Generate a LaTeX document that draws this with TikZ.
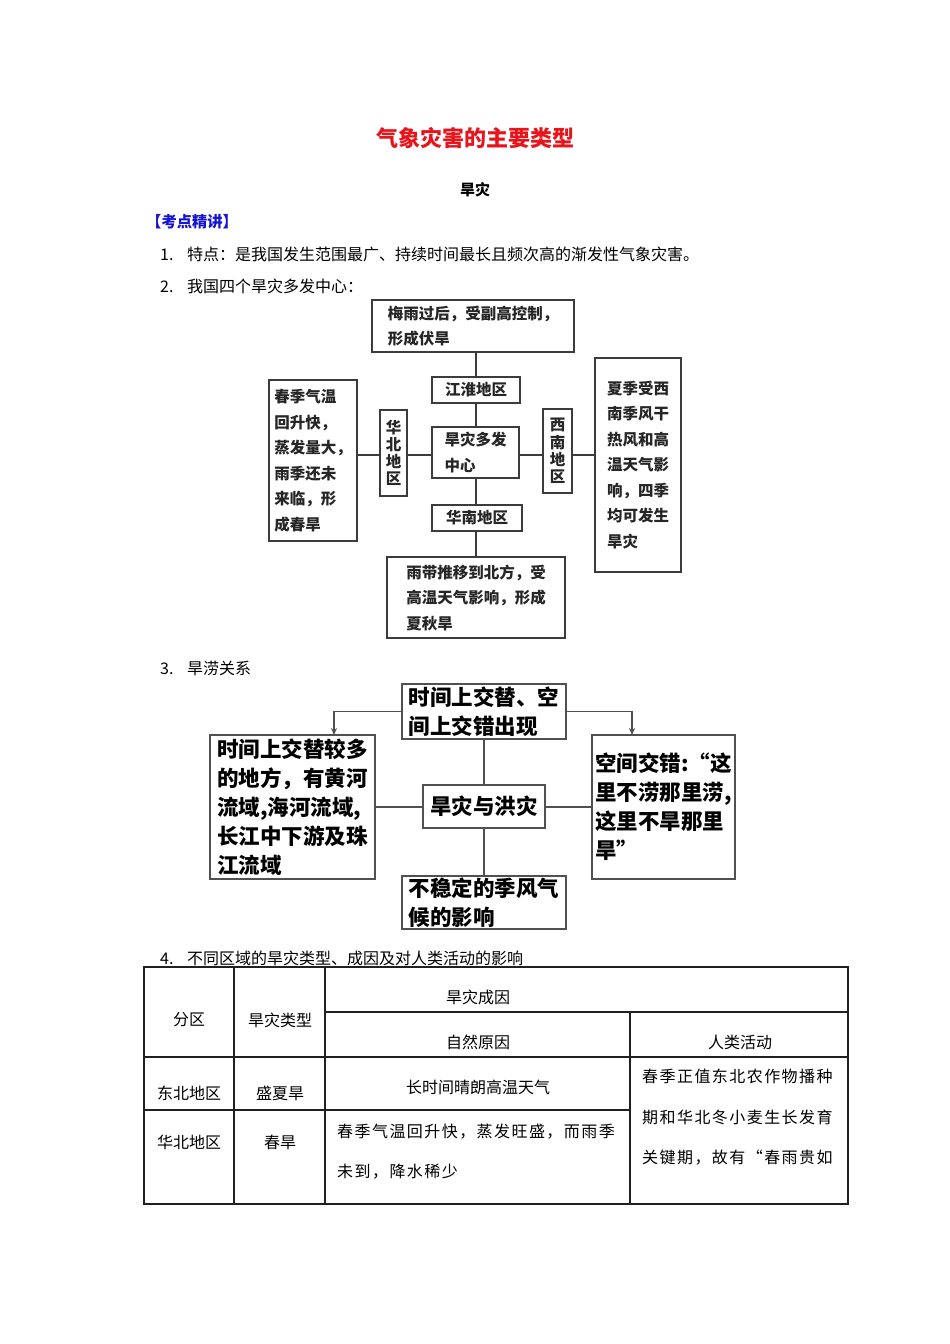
\documentclass[tikz,border=0pt]{standalone}
\usepackage{fontspec}
\setmainfont{Noto Sans CJK SC}
\newfontfamily\spacedfont{Noto Sans CJK SC}[LetterSpace=9]
\usetikzlibrary{arrows.meta}
\definecolor{titlered}{HTML}{E8141B}
\definecolor{keyblue}{HTML}{1414D2}
\definecolor{lineA}{HTML}{3C3C3C}
\definecolor{txtA}{HTML}{262626}
\definecolor{lineB}{HTML}{505050}
\definecolor{tblline}{HTML}{202020}
\begin{document}
\begin{tikzpicture}[x=1pt,y=-1pt,
  body/.style={font=\fontsize{16}{16}\selectfont, inner sep=0, anchor=west},
  boxA/.style={draw=lineA, line width=1.3pt, text=txtA, font=\bfseries\fontsize{15.5}{25.5}\selectfont, align=left, inner sep=0},
  boxV/.style={draw=lineA, line width=1.3pt, text=txtA, font=\bfseries\fontsize{15.5}{17.2}\selectfont, align=center, inner sep=0},
  connA/.style={draw=lineA, line width=1.3pt},
  boxB/.style={draw=lineB, line width=1.8pt, text=black, font=\bfseries\fontsize{21.5}{29}\selectfont, align=left, inner sep=0},
  connB/.style={draw=lineB, line width=1.5pt},
  arrB/.style={draw=lineB, line width=1.2pt, -{Stealth[length=7pt,width=6pt]}},
  tcell/.style={font=\fontsize{16}{16}\selectfont, inner sep=0},
  tleft/.style={font=\spacedfont\fontsize{16}{16}\selectfont, inner sep=0, anchor=west},
  tline/.style={draw=tblline, line width=1.2pt},
  touter/.style={draw=tblline, line width=1.8pt}
]
\useasboundingbox[fill=white] (0,0) rectangle (950,1344);

% ---------- header ----------
\node[font=\bfseries\fontsize{22}{22}\selectfont, text=titlered, inner sep=0] (title) at (475,138) {气象灾害的主要类型};
\node[font=\bfseries\fontsize{15}{15}\selectfont, inner sep=0] (sub) at (475,190) {旱灾};
\node[font=\bfseries\fontsize{15.3}{15.3}\selectfont, text=keyblue, inner sep=0, anchor=west] (key) at (146,222) {【考点精讲】};
\node[body] (p1) at (160,254) {\makebox[27pt][l]{1.}特点：是我国发生范围最广、持续时间最长且频次高的渐发性气象灾害。};
\node[body] (p2) at (160,286) {\makebox[27pt][l]{2.}我国四个旱灾多发中心：};

% ---------- diagram 1 ----------
\node[boxA, minimum width=202pt, minimum height=52pt] (top1) at (473,326) {梅雨过后，受副高控制，\\形成伏旱};
\node[boxA, minimum width=88pt, minimum height=26pt, align=center] (jh) at (476,390) {江淮地区};
\node[boxA, minimum width=87pt, minimum height=51pt] (cen) at (475.5,452.5) {旱灾多发\\中心};
\node[boxA, minimum width=90pt, minimum height=26pt, align=center] (hn) at (477,518) {华南地区};
\node[boxA, minimum width=178pt, minimum height=81pt] (bot1) at (476,597.5) {雨带推移到北方，受\\高温天气影响，形成\\夏秋旱};
\node[boxV, minimum width=27pt, minimum height=86pt] (hb) at (393.5,453) {华\\北\\地\\区};
\node[boxV, minimum width=29pt, minimum height=84pt] (xn) at (557.5,451) {西\\南\\地\\区};
\node[boxA, minimum width=88pt, minimum height=161pt] (lft1) at (313,460.5) {春季气温\\回升快，\\蒸发量大，\\雨季还未\\来临，形\\成春旱};
\node[boxA, minimum width=86pt, minimum height=214pt] (rgt1) at (638,465) {夏季受西\\南季风干\\热风和高\\温天气影\\响，四季\\均可发生\\旱灾};

\coordinate (vx) at (476,0);
\coordinate (hy) at (0,455);
\draw[connA] (vx |- top1.south) -- (vx |- jh.north);
\draw[connA] (vx |- jh.south) -- (vx |- cen.north);
\draw[connA] (vx |- cen.south) -- (vx |- hn.north);
\draw[connA] (vx |- hn.south) -- (vx |- bot1.north);
\draw[connA] (lft1.east |- hy) -- (hb.west |- hy);
\draw[connA] (hb.east |- hy) -- (cen.west |- hy);
\draw[connA] (cen.east |- hy) -- (xn.west |- hy);
\draw[connA] (xn.east |- hy) -- (rgt1.west |- hy);

% ---------- section 3 ----------
\node[body] (p3) at (160,668) {\makebox[27pt][l]{3.}旱涝关系};

\node[boxB, minimum width=164pt, minimum height=55pt] (top2) at (484,711.5) {时间上交替、空\\间上交错出现};
\node[boxB, minimum width=165pt, minimum height=144pt] (lft2) at (292.5,807) {时间上交替较多\\的地方，有黄河\\流域,海河流域,\\长江中下游及珠\\江流域};
\node[boxB, minimum width=122pt, minimum height=43pt, align=center] (cen2) at (484,806.5) {旱灾与洪灾};
\node[boxB, minimum width=143pt, minimum height=144pt] (rgt2) at (663.5,807) {空间交错:“这\\里不涝那里涝,\\这里不旱那里\\旱”};
\node[boxB, minimum width=164pt, minimum height=53pt] (bot2) at (484,902.5) {不稳定的季风气\\候的影响};

\coordinate (vx2) at (484,0);
\coordinate (hy2) at (0,807);
\coordinate (al) at (334,735);
\coordinate (ar) at (632,735);
\draw[connB] (vx2 |- top2.south) -- (vx2 |- cen2.north);
\draw[connB] (vx2 |- cen2.south) -- (vx2 |- bot2.north);
\draw[connB] (cen2.west |- hy2) -- (lft2.east |- hy2);
\draw[connB] (cen2.east |- hy2) -- (rgt2.west |- hy2);
\draw[arrB] (top2.west) -| (al);
\draw[arrB] (top2.east) -| (ar);

% ---------- section 4 table ----------
\node[body] (p4) at (160,958) {\makebox[27pt][l]{4.}不同区域的旱灾类型、成因及对人类活动的影响};

\draw[touter] (144,967) rectangle (848,1204);
\draw[tline] (234,967) -- (234,1204);
\draw[tline] (325,967) -- (325,1204);
\draw[tline] (630,1012) -- (630,1204);
\draw[tline] (325,1012) -- (848,1012);
\draw[tline] (144,1057) -- (848,1057);
\draw[tline] (144,1110) -- (630,1110);

\node[tcell] (c11) at (189,1020) {分区};
\node[tcell] (c12) at (280,1020) {旱灾类型};
\node[tcell] (c13) at (478,997) {旱灾成因};
\node[tcell] (c14) at (478,1042) {自然原因};
\node[tcell] (c15) at (740,1042) {人类活动};
\node[tcell] (c21) at (189,1093) {东北地区};
\node[tcell] (c22) at (280,1093) {盛夏旱};
\node[tcell] (c23) at (478,1087) {长时间晴朗高温天气};
\node[tcell] (c31) at (189,1142) {华北地区};
\node[tcell] (c32) at (280,1142) {春旱};
\node[tleft] (c33a) at (337,1132) {春季气温回升快，蒸发旺盛，而雨季};
\node[tleft] (c33b) at (337,1172) {未到，降水稀少};
\node[tleft] (c24a) at (642,1076) {春季正值东北农作物播种};
\node[tleft] (c24b) at (642,1117) {期和华北冬小麦生长发育};
\node[tleft] (c24c) at (642,1158) {关键期，故有“春雨贵如};
\end{tikzpicture}
\end{document}
